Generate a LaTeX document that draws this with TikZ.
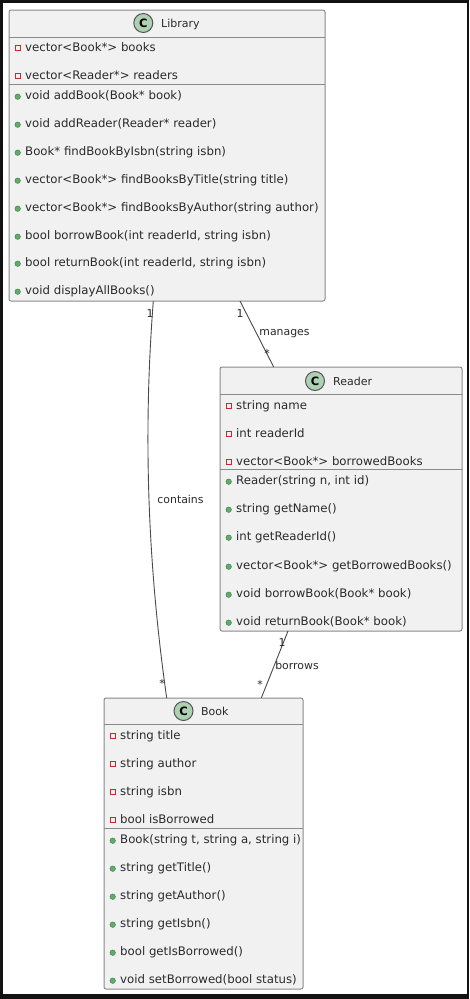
\documentclass[tikz,border=0pt]{standalone}
\usepackage{fontspec}
\setmainfont{DejaVu Sans}
\definecolor{boxfill}{HTML}{F1F1F1}
\definecolor{boxline}{HTML}{8A8A8A}
\definecolor{ink}{HTML}{2A2A2A}
\definecolor{circfill}{HTML}{ADD1B2}
\definecolor{privred}{HTML}{C82930}
\definecolor{pubgreen}{HTML}{84BE84}
\definecolor{pubedge}{HTML}{3A8A4A}
\tikzset{
  x=1pt,y=-1pt,
  classbox/.style={draw=boxline,line width=1pt,fill=boxfill,rounded corners=2pt,inner sep=0pt,outer sep=0pt,anchor=center},
  divider/.style={draw=boxline,line width=1pt},
  mem/.style={anchor=base west,inner sep=0pt,text=ink,font=\fontsize{11.75}{13}\selectfont},
  title/.style={anchor=base west,inner sep=0pt,text=ink,font=\fontsize{11}{13}\selectfont},
  lab/.style={inner sep=0pt,text=ink,font=\fontsize{10.9}{12}\selectfont},
  privicon/.style={draw=privred,line width=0.9pt,fill=none,minimum size=5.5pt,inner sep=0pt,shape=rectangle},
  pubicon/.style={draw=pubedge,line width=0.5pt,fill=pubgreen!60!pubedge,minimum size=5.5pt,inner sep=0pt,shape=circle},
  cicon/.style={circle,draw=ink!80,line width=1pt,fill=circfill,minimum size=19pt,inner sep=0pt,text=black,font=\fontsize{11.5}{13}\bfseries\selectfont},
  link/.style={draw=ink!85,line width=0.9pt},
}
\newcommand{\priv}[4]{\node[privicon] (#1i) at (#2-0.3,#3+0.7) {}; \node[mem] (#1) at (#2+7,#3+4.3) {#4};}
\newcommand{\publ}[4]{\node[pubicon] (#1i) at (#2-0.3,#3+1.7) {}; \node[mem] (#1) at (#2+7,#3+4.8) {#4};}
\begin{document}
\begin{tikzpicture}
\useasboundingbox (0,0) rectangle (469,999);
\fill[black!93] (0,0) rectangle (469,999);
\fill[white] (3,3) rectangle (467,994);
% Library
\node[classbox,minimum width=316pt,minimum height=291pt] (lib) at (167,155.5) {};
\node[cicon] (libc) at (143.3,23) {C};
\node[title] (libt) at (161,27) {Library};
\draw[divider] (lib.west |- 0,37) -- (lib.east |- 0,37);
\draw[divider] (lib.west |- 0,84) -- (lib.east |- 0,84);
\priv{la}{18}{47}{vector<Book*> books}
\priv{lb}{18}{75}{vector<Reader*> readers}
\publ{lc}{18}{95}{void addBook(Book* book)}
\publ{ld}{18}{123}{void addReader(Reader* reader)}
\publ{le}{18}{151}{Book* findBookByIsbn(string isbn)}
\publ{lf}{18}{179}{vector<Book*> findBooksByTitle(string title)}
\publ{lg}{18}{207}{vector<Book*> findBooksByAuthor(string author)}
\publ{lh}{18}{235}{bool borrowBook(int readerId, string isbn)}
\publ{li}{18}{262}{bool returnBook(int readerId, string isbn)}
\publ{lj}{18}{290}{void displayAllBooks()}
% Reader
\node[classbox,minimum width=242pt,minimum height=264pt] (rd) at (341,499) {};
\node[cicon] (rdc) at (315,381) {C};
\node[title] (rdt) at (333,385) {Reader};
\draw[divider] (rd.west |- 0,394) -- (rd.east |- 0,394);
\draw[divider] (rd.west |- 0,469) -- (rd.east |- 0,469);
\priv{ra}{229}{405}{string name}
\priv{rb}{229}{433}{int readerId}
\priv{rc}{229}{461}{vector<Book*> borrowedBooks}
\publ{rd1}{229}{480}{Reader(string n, int id)}
\publ{re}{229}{508}{string getName()}
\publ{rf}{229}{536}{int getReaderId()}
\publ{rg}{229}{565}{vector<Book*> getBorrowedBooks()}
\publ{rh}{229}{593}{void borrowBook(Book* book)}
\publ{ri}{229}{621}{void returnBook(Book* book)}
% Book
\node[classbox,minimum width=199pt,minimum height=291pt] (bk) at (203.5,843.5) {};
\node[cicon] (bkc) at (183.5,711) {C};
\node[title] (bkt) at (201,715) {Book};
\draw[divider] (bk.west |- 0,724) -- (bk.east |- 0,724);
\draw[divider] (bk.west |- 0,828) -- (bk.east |- 0,828);
\priv{ba}{113}{735}{string title}
\priv{bb}{113}{763}{string author}
\priv{bc}{113}{791}{string isbn}
\priv{bd}{113}{819}{bool isBorrowed}
\publ{be}{113}{839}{Book(string t, string a, string i)}
\publ{bf}{113}{867}{string getTitle()}
\publ{bg}{113}{895}{string getAuthor()}
\publ{bh}{113}{923}{string getIsbn()}
\publ{bi}{113}{951}{bool getIsBorrowed()}
\publ{bj}{113}{979}{void setBorrowed(bool status)}
% Connectors
\draw[link] ([xshift=144.3pt]lib.south west) .. controls (146.5,390) and (142,525) .. ([xshift=62.7pt]bk.north west);
\draw[link] ([xshift=231pt]lib.south west) -- ([xshift=53.7pt]rd.north west);
\draw[link] ([xshift=68pt]rd.south west) -- ([xshift=157.3pt]bk.north west);
% Labels
\node[lab] (l1) at (150,314) {1};
\node[lab] (l2) at (162,683) {*};
\node[lab] (l3) at (180.5,499) {contains};
\node[lab] (l4) at (240,314) {1};
\node[lab] (l5) at (284.5,334) {manages};
\node[lab] (l6) at (267,353) {*};
\node[lab] (l7) at (282,643) {1};
\node[lab] (l8) at (297,665) {borrows};
\node[lab] (l9) at (260,684) {*};
\end{tikzpicture}
\end{document}
